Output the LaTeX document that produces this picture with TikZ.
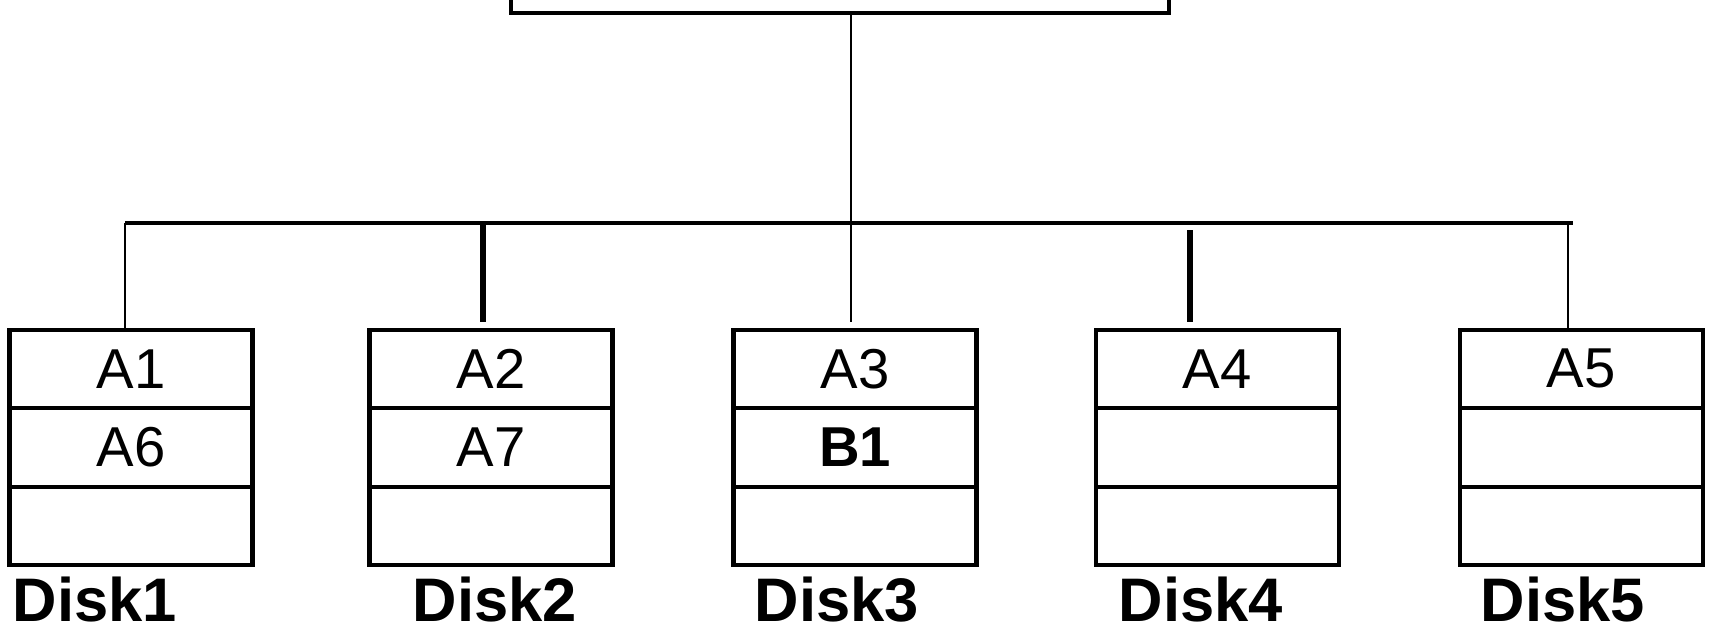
\documentclass[tikz,border=0pt]{standalone}
\usepackage{fontspec}
\setmainfont{Liberation Sans}
\usetikzlibrary{positioning}

\begin{document}
\begin{tikzpicture}[x=0.1mm, y=-0.1mm, line width=1.15pt,
    cell/.style={draw, minimum width=24.3mm, minimum height=7.85mm, inner sep=0pt, outer sep=0pt,
      font=\fontsize{16}{16}\selectfont},
    disklabel/.style={anchor=base, inner sep=0pt, font=\fontsize{17.5}{17.5}\selectfont\bfseries},
    thinline/.style={line width=0.8pt},
    busline/.style={line width=1.35pt}]
    \clip (0,0) rectangle (1711,633);
    % controller, only its lower edge is in view
    \node[draw, minimum width=65.8mm, minimum height=20mm, outer sep=0pt, anchor=south] (ctrl) at (840,13) {};
    % the five disks
    \foreach \i/\x/\top/\mid/\lx in {1/131/A1/A6/95, 2/491/A2/A7/495, 3/855/A3/{\textbf{B1}}/837,
        4/1217/A4/{}/1201, 5/1581/A5/{}/1563} {
        \node[cell, anchor=north] (d\i a) at (\x,329.5) {\top};
        \node[cell, below=0pt of d\i a] (d\i b) {\mid};
        \node[cell, below=0pt of d\i b] (d\i c) {};
        \node[disklabel] (lab\i) at (\lx,621) {Disk\i};
    }
    % bus and drops
    \coordinate (busL) at (125,223);
    \coordinate (busR) at (1573,223);
    \coordinate (trunk) at (851,223);
    \draw[busline] (busL) -- (busR);
    \draw[thinline] (trunk |- ctrl.south) -- (trunk);
    \foreach \i/\x/\s/\w/\sh in {1/125/223/0.8pt/0mm, 2/483/223/1.6pt/0.75mm, 3/851/223/0.8pt/0.75mm,
        4/1190/230/1.6pt/0.75mm, 5/1568/223/0.8pt/0mm} {
        \coordinate (tap\i) at (\x,\s);
        \draw[line width=\w, shorten >=\sh] (tap\i) -- (tap\i |- d\i a.north);
    }
\end{tikzpicture}
\end{document}
